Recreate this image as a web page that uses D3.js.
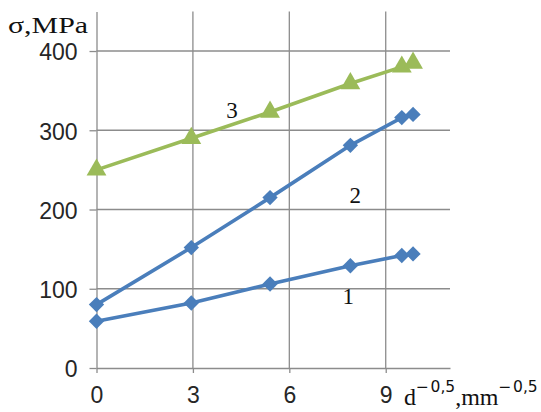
<!DOCTYPE html>
<meta charset="utf-8">
<style>
body { margin: 0; background: #fff; }
svg { display: block; }
.tick text { font-family: "Liberation Sans", "Open Sans", sans-serif; font-size: 23px; fill: #262626; }
.serif { font-family: "Liberation Serif", "DejaVu Serif", serif; fill: #111; }
</style>
<svg width="541" height="412"></svg>
<script src="https://cdn.jsdelivr.net/npm/d3@7"></script>
<script>

// x values (d^-0.5, mm^-0.5) and stresses for the three curves
var xVals = [0, 2.95, 5.4, 7.9, 9.5, 9.85]
var curve1 = [59, 82, 106, 129, 142, 144]
var curve2 = [80, 152, 215, 281, 316, 320]
var curve3 = [250, 290, 323, 359, 380, 385]
var xTicks = [0, 3, 6, 9]
var yTicks = [0, 100, 200, 300, 400]

var svg = d3.select("svg")

var x = d3.scaleLinear().domain([0, 11]).range([96.5, 450])
var y = d3.scaleLinear().domain([0, 450]).range([368, 11.4])

// grid
svg.append("g")
    .selectAll("line")
    .data(yTicks.slice(1))
    .enter().append("line")
    .attr("x1", x(0)).attr("x2", x(11))
    .attr("y1", function(d) { return y(d); })
    .attr("y2", function(d) { return y(d); })
    .attr("stroke", "#8c8c8c").attr("stroke-width", 1.3)

svg.append("g")
    .selectAll("line")
    .data(xTicks.slice(1))
    .enter().append("line")
    .attr("x1", function(d) { return x(d); })
    .attr("x2", function(d) { return x(d); })
    .attr("y1", y(450)).attr("y2", y(0))
    .attr("stroke", "#8c8c8c").attr("stroke-width", 1.3)

var xAxis = svg.append("g")
    .attr("transform", "translate(0," + y(0) + ")")
    .call(d3.axisBottom(x).tickValues(xTicks).tickSize(5).tickSizeOuter(0).tickPadding(14))
xAxis.select(".domain").attr("stroke", "#8c8c8c").attr("stroke-width", 1.3)
xAxis.selectAll(".tick line").attr("stroke", "#8c8c8c").attr("stroke-width", 1.3)

var yAxis = svg.append("g")
    .attr("transform", "translate(" + x(0) + ",0)")
    .call(d3.axisLeft(y).tickValues(yTicks).tickSize(7).tickSizeOuter(0).tickPadding(12))
yAxis.select(".domain").attr("stroke", "#8c8c8c").attr("stroke-width", 1.3)
yAxis.selectAll(".tick line").attr("stroke", "#8c8c8c").attr("stroke-width", 1.3)
yAxis.selectAll(".tick text").attr("dy", "0.38em")

var line = d3.line()
    .x(function(d, i) { return x(xVals[i]); })
    .y(function(d) { return y(d); })

var blue = "#4a7ebb", green = "#9bbb59"
var diamond = d3.symbol().type(d3.symbolDiamond2).size(150)
var triangle = d3.symbol().type(d3.symbolTriangle).size(170)

function drawSeries(vals, color, sym) {
  svg.append("path")
      .datum(vals)
      .attr("d", line)
      .attr("fill", "none")
      .attr("stroke", color)
      .attr("stroke-width", 3.6)
  svg.append("g")
    .selectAll("path")
    .data(vals)
    .enter().append("path")
      .attr("d", sym)
      .attr("fill", color)
      .attr("transform", function(d, i) { return "translate(" + x(xVals[i]) + "," + y(d) + ")"; })
}

drawSeries(curve1, blue, diamond)
drawSeries(curve2, blue, diamond)
drawSeries(curve3, green, triangle)

// curve numbers
var curveLabels = [["1", 7.83, 81], ["2", 8.05, 208], ["3", 4.22, 316]]
svg.append("g")
  .selectAll("text")
  .data(curveLabels)
  .enter().append("text")
    .attr("class", "serif")
    .attr("x", function(d) { return x(d[1]); })
    .attr("y", function(d) { return y(d[2]); })
    .attr("text-anchor", "middle")
    .attr("font-size", 23)
    .text(function(d) { return d[0]; })

// axis titles
svg.append("text")
    .attr("class", "serif")
    .attr("x", 8).attr("y", 33)
    .attr("font-size", 24)
    .attr("textLength", 80)
    .attr("lengthAdjust", "spacingAndGlyphs")
    .text("σ,MPa")

var xt = svg.append("text")
    .attr("class", "serif")
    .attr("x", 404).attr("y", 405)
    .attr("font-size", 24)
xt.append("tspan").text("d")
xt.append("tspan").attr("dy", -13).attr("font-size", 15.5)
    .attr("font-family", "'DejaVu Sans', sans-serif").text("\u2212\u200a0,5")
xt.append("tspan").attr("dy", 13).text(",mm")
xt.append("tspan").attr("dy", -13).attr("font-size", 15.5)
    .attr("font-family", "'DejaVu Sans', sans-serif").text("\u2212\u200a0,5")

</script>
